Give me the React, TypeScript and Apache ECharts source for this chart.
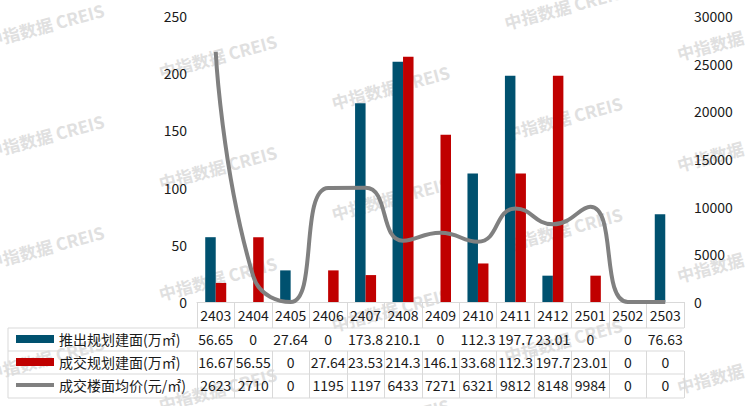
import React, { useEffect, useRef } from 'react';
import * as echarts from 'echarts';

const categories = ['2403', '2404', '2405', '2406', '2407', '2408', '2409', '2410', '2411', '2412', '2501', '2502', '2503'];
const launchArea = [56.65, 0, 27.64, 0, 173.8, 210.1, 0, 112.3, 197.7, 23.01, 0, 0, 76.63];
const dealArea = [16.67, 56.55, 0, 27.64, 23.53, 214.3, 146.1, 33.68, 112.3, 197.7, 23.01, 0, 0];
const dealPrice = [26233, 2710, 0, 11952, 11975, 6433, 7271, 6321, 9812, 8148, 9984, 0, 0];
const seriesNames = ['推出规划建面(万㎡)', '成交规划建面(万㎡)', '成交楼面均价(元/㎡)'];
const watermarkText = '中指数据 CREIS';

const FONT = '"Noto Sans CJK SC", "Noto Sans", sans-serif';
const TEXT = '#1a1a1a';
const BORDER = '#d9d9d9';
const BLUE = '#00516f';
const RED = '#c00000';
const GRAY = '#808080';

const W = 746;
const H = 406;
const GL = 197;
const GR = 684;
const GT = 16;
const GB = 302;
const TL = 8;
const rowLines = [328, 351, 374, 398];

export default function App() {
  const ref = useRef<HTMLDivElement>(null);
  useEffect(() => {
    if (!ref.current) return;
    const chart = echarts.init(ref.current, undefined, { renderer: 'svg' });
    const rows = [launchArea, dealArea, dealPrice];

    const graphics: any[] = [];
    // watermarks
    for (let c = 0; c < 5; c++) {
      const x = 45 + 172.75 * c;
      let y0 = 25 + 31 * c;
      while (y0 - 111 > -40) y0 -= 111;
      for (let y = y0; y < H + 40; y += 111) {
        graphics.push({
          type: 'text',
          x,
          y,
          rotation: Math.PI / 12,
          z: 0,
          silent: true,
          style: {
            text: watermarkText,
            align: 'center',
            verticalAlign: 'middle',
            fill: '#e0e0e0',
            font: `600 17px ${FONT}`,
          },
        });
      }
    }
    // table borders
    rowLines.forEach((y) => {
      graphics.push({
        type: 'line',
        z: 5,
        shape: { x1: TL, y1: y, x2: GR, y2: y },
        style: { stroke: BORDER, lineWidth: 1 },
      });
    });
    graphics.push({
      type: 'line',
      z: 5,
      shape: { x1: TL, y1: rowLines[0], x2: TL, y2: rowLines[rowLines.length - 1] },
      style: { stroke: BORDER, lineWidth: 1 },
    });

    const offsets = [26, 49, 72];
    const tickLens = [23, 23, 24];
    const rowAxes = rows.map((row, k) => ({
      type: 'category',
      data: categories,
      position: 'bottom',
      offset: offsets[k],
      axisLine: { show: false },
      axisTick: { show: true, length: tickLens[k], lineStyle: { color: BORDER } },
      axisLabel: {
        interval: 0,
        margin: 4,
        fontSize: 14,
        fontFamily: FONT,
        color: TEXT,
        width: 37,
        overflow: 'truncate',
        ellipsis: '',
        formatter: (_v: string, i: number) => String(row[i]),
      },
    }));

    chart.setOption({
      animation: false,
      backgroundColor: '#ffffff',
      textStyle: { fontFamily: FONT },
      grid: { left: GL, right: W - GR, top: GT, bottom: H - GB, containLabel: false, outerBoundsMode: 'none' },
      legend: {
        orient: 'vertical',
        left: 14,
        top: 332,
        padding: 0,
        itemWidth: 38,
        itemHeight: 8,
        itemGap: 9,
        textStyle: { fontSize: 14, lineHeight: 14, color: TEXT, fontFamily: FONT },
        data: [
          { name: seriesNames[0], icon: 'rect' },
          { name: seriesNames[1], icon: 'rect' },
          { name: seriesNames[2], itemStyle: { opacity: 0 }, lineStyle: { width: 4, color: GRAY } },
        ],
      },
      xAxis: [
        {
          type: 'category',
          data: categories,
          position: 'bottom',
          axisLine: { show: true, lineStyle: { color: BORDER } },
          axisTick: { show: true, length: 26, lineStyle: { color: BORDER } },
          axisLabel: { interval: 0, margin: 6, fontSize: 14, fontFamily: FONT, color: TEXT },
        },
        ...rowAxes,
      ],
      yAxis: [
        {
          type: 'value',
          min: 0,
          max: 250,
          interval: 50,
          axisLine: { show: false },
          axisTick: { show: false },
          splitLine: { show: false },
          axisLabel: { margin: 10, fontSize: 14, fontFamily: FONT, color: TEXT },
        },
        {
          type: 'value',
          min: 0,
          max: 30000,
          interval: 5000,
          axisLine: { show: false },
          axisTick: { show: false },
          splitLine: { show: false },
          axisLabel: {
            margin: 10,
            fontSize: 14,
            fontFamily: FONT,
            color: TEXT,
            formatter: (v: number) => String(v),
          },
        },
      ],
      graphic: graphics,
      series: [
        {
          name: seriesNames[0],
          type: 'bar',
          data: launchArea,
          barWidth: 10.5,
          barGap: '0%',
          itemStyle: { color: BLUE },
        },
        {
          name: seriesNames[1],
          type: 'bar',
          data: dealArea,
          barWidth: 10.5,
          barGap: '0%',
          itemStyle: { color: RED },
        },
        {
          name: seriesNames[2],
          type: 'line',
          yAxisIndex: 1,
          data: dealPrice,
          smooth: 0.5,
          symbol: 'none',
          lineStyle: { color: GRAY, width: 4 },
          itemStyle: { color: GRAY },
          z: 3,
        },
      ],
    });
    return () => chart.dispose();
  }, []);
  return <div ref={ref} style={{ position: 'fixed', left: 0, top: 0, width: W, height: H }} />;
}
